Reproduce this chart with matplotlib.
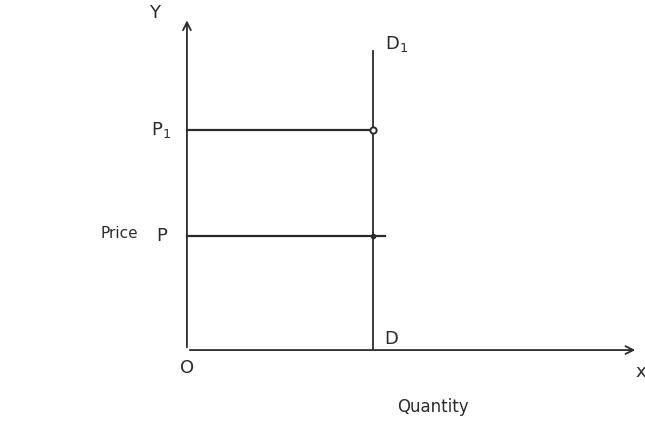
import matplotlib.pyplot as plt

# perfectly inelastic demand sketch
quantity_d = 4.0          # quantity where the vertical demand curve sits
price_levels = [2.6, 5.0]  # P, P1
price_labels = ['P', 'P$_1$']
line_overhang = [0.25, 0.0]
demand_top = 6.8
y_axis_top = 7.55
x_axis_end = 9.7

ink = '#2b2b2b'

fig = plt.figure(figsize=(6.45, 4.28), dpi=100)
ax = fig.add_axes([0, 0, 1, 1])
ax.set_xlim(-4.02, 9.85)
ax.set_ylim(-1.77, 7.95)
ax.axis('off')

# axes with open arrowheads
ax.annotate('', xy=(0, y_axis_top), xytext=(0, 0),
            arrowprops=dict(arrowstyle='->', color=ink, lw=1.3, mutation_scale=14))
ax.annotate('', xy=(x_axis_end, 0), xytext=(0, 0),
            arrowprops=dict(arrowstyle='->', color=ink, lw=1.3, mutation_scale=14))

# demand curve D-D1
ax.plot([quantity_d, quantity_d], [0, demand_top], color=ink, lw=1.3)

# price lines
for p, extra in zip(price_levels, line_overhang):
    ax.plot([0, quantity_d + extra], [p, p], color=ink, lw=1.6)
ax.plot([quantity_d], [price_levels[1]], 'o', ms=4.5, mfc='white', mec=ink, mew=1.4)
ax.plot([quantity_d], [price_levels[0]], 'o', ms=3, color=ink)

fs = 13
for p, lab in zip(price_levels, price_labels):
    ax.text(-0.55, p, lab, fontsize=fs, color=ink, ha='center', va='center')

ax.text(-0.7, y_axis_top + 0.1, 'Y', fontsize=fs, color=ink, ha='center', va='center')
ax.text(quantity_d + 0.25, demand_top + 0.15, 'D$_1$', fontsize=fs, color=ink, ha='left', va='center')
ax.text(quantity_d + 0.25, 0.25, 'D', fontsize=fs, color=ink, ha='left', va='center')
ax.text(0, -0.4, 'O', fontsize=fs, color=ink, ha='center', va='center')
ax.text(x_axis_end + 0.05, -0.5, 'x', fontsize=fs, color=ink, ha='center', va='center')
ax.text(-1.45, 2.65, 'Price', fontsize=11, color=ink, ha='center', va='center')
ax.text(5.3, -1.3, 'Quantity', fontsize=12, color=ink, ha='center', va='center')

fig.savefig('out.png', dpi=100)
